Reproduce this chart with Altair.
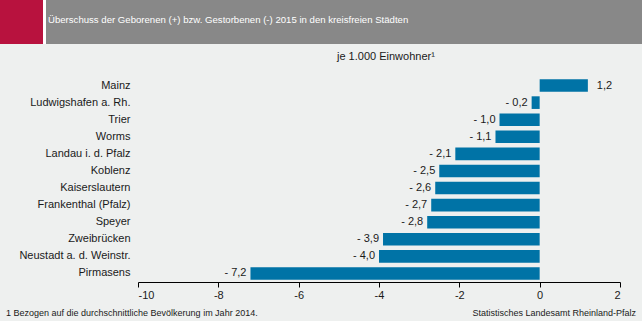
import altair as alt
import pandas as pd

cities = ["Mainz", "Ludwigshafen a. Rh.", "Trier", "Worms", "Landau i. d. Pfalz",
          "Koblenz", "Kaiserslautern", "Frankenthal (Pfalz)", "Speyer", "Zweibrücken",
          "Neustadt a. d. Weinstr.", "Pirmasens"]
values = [1.2, -0.2, -1.0, -1.1, -2.1, -2.5, -2.6, -2.7, -2.8, -3.9, -4.0, -7.2]
x_ticks = [-10, -8, -6, -4, -2, 0, 2]

title_text = "Überschuss der Geborenen (+) bzw. Gestorbenen (-) 2015 in den kreisfreien Städten"
unit_text = "je 1.000 Einwohner¹"
foot_text = "1 Bezogen auf die durchschnittliche Bevölkerung im Jahr 2014."
source_text = "Statistisches Landesamt Rheinland-Pfalz"

def fmt(v):
    s = f"{abs(v):.1f}".replace(".", ",")
    return f"- {s}" if v < 0 else s

df = pd.DataFrame({"city": cities, "value": values, "label": [fmt(v) for v in values]})

FONT = "Liberation Sans"
W, H = 482, 205
BAR = "#0073a6"

base = alt.Chart(df)
ysc = alt.Scale(domain=cities, paddingInner=0.26, paddingOuter=0.13)
xsc = alt.Scale(domain=[-10, 2], nice=False, zero=False)

bars = base.mark_bar(color=BAR).encode(
    y=alt.Y("city:N", sort=cities, scale=ysc, title=None,
            axis=alt.Axis(domain=False, ticks=False, labelPadding=8, labelFontSize=11,
                          labelFont=FONT, labelColor="#1a1a1a", labelLimit=200)),
    x=alt.X("value:Q", scale=xsc, title=None,
            axis=alt.Axis(values=x_ticks, grid=False, domainColor="#000", tickColor="#000",
                          tickSize=5, labelFontSize=11, labelFont=FONT, labelColor="#1a1a1a",
                          labelPadding=2, labelExpr="'' + datum.value")),
)

neg_text = base.transform_filter("datum.value < 0").mark_text(
    align="right", baseline="middle", dx=-4, fontSize=11, font=FONT, color="#1a1a1a"
).encode(
    y=alt.Y("city:N", sort=cities, scale=ysc, axis=None),
    x=alt.X("value:Q", scale=xsc),
    text="label:N",
)
pos_text = base.transform_filter("datum.value >= 0").mark_text(
    align="left", baseline="middle", dx=9, fontSize=11, font=FONT, color="#1a1a1a"
).encode(
    y=alt.Y("city:N", sort=cities, scale=ysc, axis=None),
    x=alt.X("value:Q", scale=xsc),
    text="label:N",
)

zero_pos = 402
axis_left = base.mark_point(opacity=0).encode(
    y=alt.Y("city:N", sort=cities, scale=ysc, title=None,
            axis=alt.Axis(orient="left", position=zero_pos, labels=False, tickBand="extent",
                          tickSize=4, tickColor="#000", domainColor="#000", zindex=2)),
    x=alt.X("value:Q", scale=xsc),
)
axis_right = base.mark_point(opacity=0).encode(
    y=alt.Y("city:N", sort=cities, scale=ysc, title=None,
            axis=alt.Axis(orient="right", position=zero_pos, labels=False, tickBand="extent",
                          tickSize=4, tickColor="#000", domainColor="#000", zindex=2)),
    x=alt.X("value:Q", scale=xsc),
)

one = alt.Chart(pd.DataFrame({"a": [0]}))
def rect(x1, x2, y1, y2, color):
    return one.mark_rect(color=color).encode(
        x=alt.value(x1), x2=alt.value(x2), y=alt.value(y1), y2=alt.value(y2))

def txt(s, x, y, size, color, align="left"):
    return one.mark_text(text=s, align=align, baseline="middle", fontSize=size,
                         font=FONT, color=color).encode(x=alt.value(x), y=alt.value(y))

red = rect(-138, -95, -77, -33, "#b8123e")
white = rect(-95, -92, -77, -33, "#ffffff")
gray = rect(-92, 504, -77, -33, "#888888")
title = txt(title_text, -90, -57, 9.6, "#ffffff")
unit = txt(unit_text, 199, -20, 11, "#1a1a1a")
foot = txt(foot_text, -132, 236, 9, "#1a1a1a")
source = txt(source_text, 498, 236, 9, "#1a1a1a", align="right")

chart = alt.layer(
    red, white, gray, title, unit, foot, source,
    bars, neg_text, pos_text, axis_left, axis_right
).resolve_axis(y="independent").properties(
    width=W, height=H,
    autosize=alt.AutoSizeParams(type="none"),
    padding={"left": 138, "top": 77, "right": 22, "bottom": 39},
    background="#eef0ef",
).configure_view(stroke=None)

chart.save("out.html", embed_options={"renderer": "svg", "actions": False})
